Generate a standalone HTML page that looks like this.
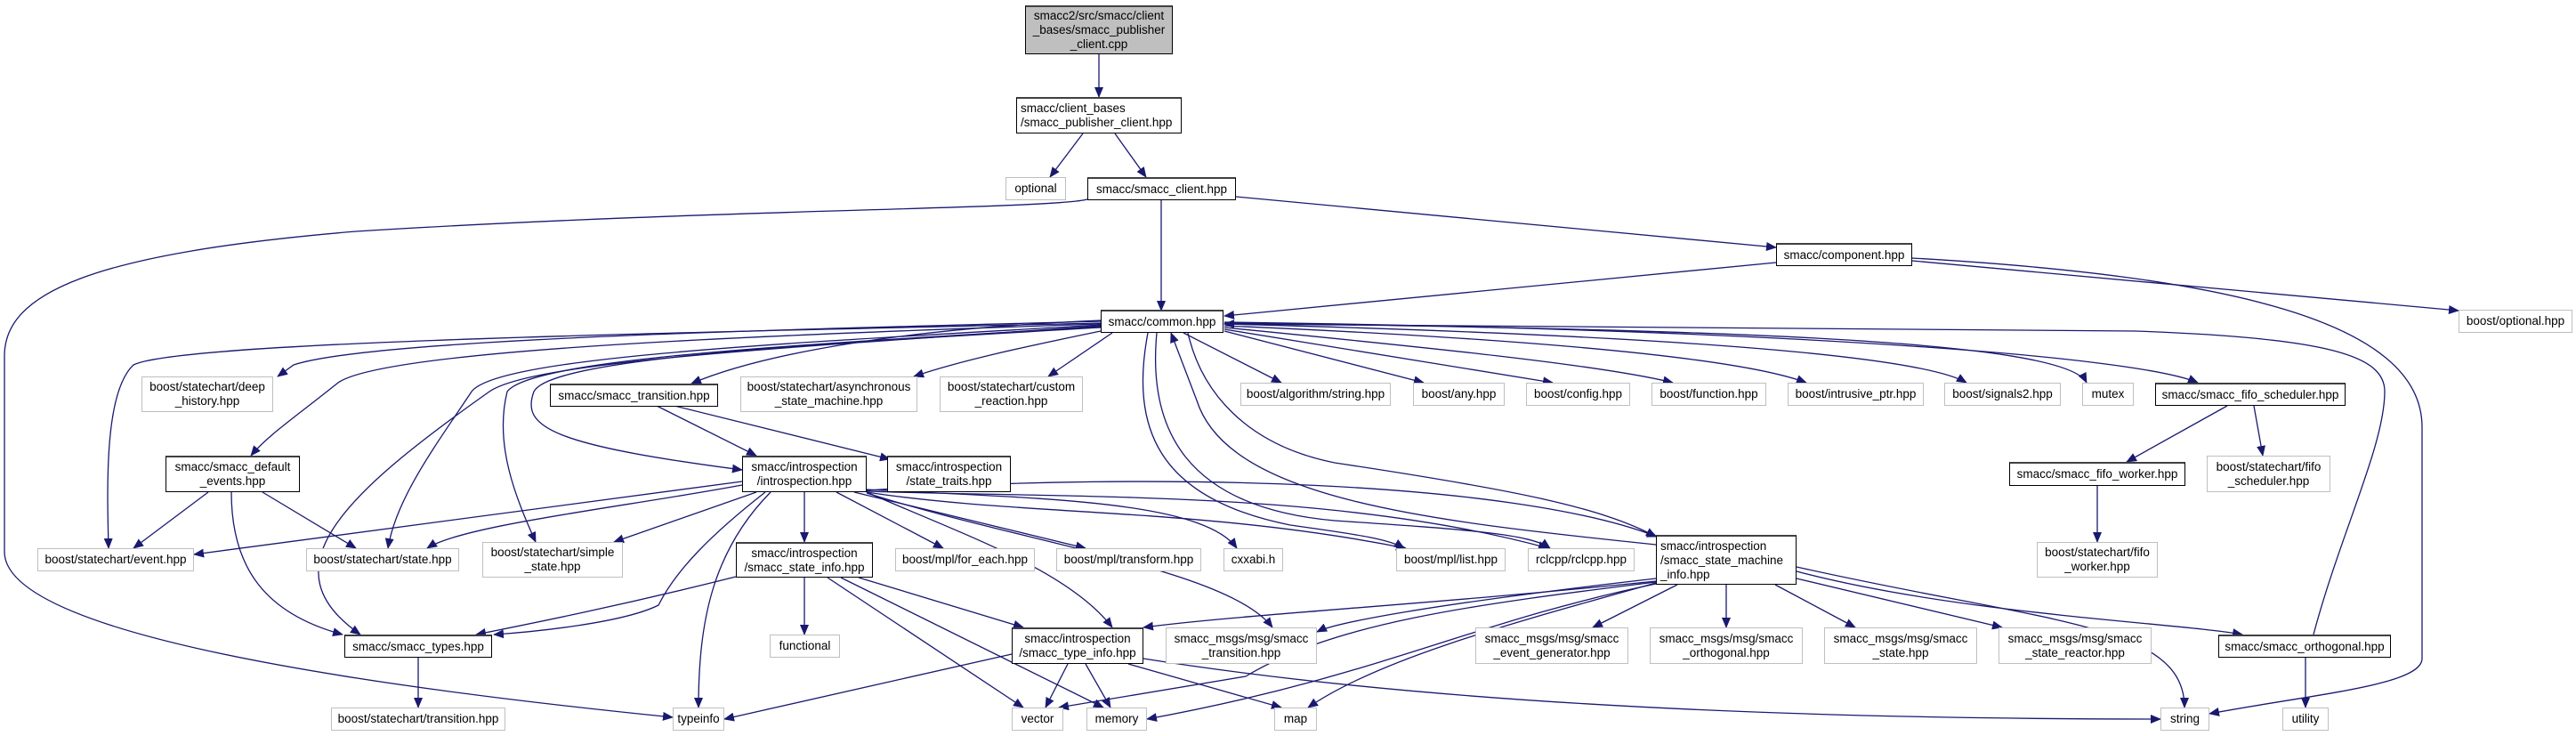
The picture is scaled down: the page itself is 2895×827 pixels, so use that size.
<!DOCTYPE html>
<html><head><meta charset="utf-8"><style>
body{margin:0;background:#fff;width:2895px;height:827px;overflow:hidden;position:relative;font-family:"Liberation Sans",sans-serif}
.n{position:absolute;box-sizing:border-box;border:1px solid #bfbfbf;background:#fff;font-size:13.5px;line-height:16px;color:#000;display:flex;align-items:center;justify-content:center;text-align:center;white-space:pre}
.d{border:1.5px solid #000;border-top:2px solid #404040}
.l{text-align:left;justify-content:flex-start;padding-left:4px}
svg{position:absolute;left:0;top:0}
</style></head><body>
<svg width="2895" height="827">
<defs><marker id="a" markerWidth="12" markerHeight="10" refX="11" refY="5" orient="auto" markerUnits="userSpaceOnUse"><path d="M0,0 L12,5 L0,10 z" fill="#191970"/></marker></defs>
<g fill="none" stroke="#191970" stroke-width="1.3" marker-end="url(#a)">
<path d="M1235,61 L1235,109"/>
<path d="M1217,150 L1180,199"/>
<path d="M1253,150 L1288,199"/>
<path d="M1305,225 L1305,349"/>
<path d="M1389,221 L1996,278"/>
<path d="M1222,224 C1180,235 800,235 400,260 C100,285 5,330 5,400 L5,620 C5,700 300,760 756,806"/>
<path d="M1996,295 L1376,355"/>
<path d="M2149,293 L2763,349"/>
<path d="M2149,290 C2500,310 2722,360 2722,480 L2722,740 C2722,770 2600,780 2483,802"/>
<path d="M2600,713 C2630,600 2680,500 2680,440 C2680,400 2620,380 2400,372 L1376,364"/>
<path d="M1237,361 C900,370 420,380 330,410 L312,423"/>
<path d="M1237,363 C700,375 200,385 150,410 C118,440 120,540 122,616"/>
<path d="M1237,364 C800,378 430,395 380,430 C330,470 300,490 282,512"/>
<path d="M1237,365 C900,385 560,400 530,440 C490,500 445,560 436,616"/>
<path d="M1237,366 C900,390 600,405 550,440 C380,560 300,640 405,713"/>
<path d="M1237,367 C950,385 600,400 570,440 C555,500 580,560 602,609"/>
<path d="M1237,368 C950,385 620,400 600,440 C585,480 620,500 834,528"/>
<path d="M1237,360 C1000,370 850,400 777,431"/>
<path d="M1250,374 L1178,423"/>
<path d="M1237,372 C1150,390 1080,405 1027,423"/>
<path d="M1330,374 L1440,430"/>
<path d="M1290,374 C1270,480 1300,560 1450,590 C1520,600 1560,605 1578,616"/>
<path d="M1300,374 C1290,480 1330,570 1500,585 C1650,595 1720,600 1742,616"/>
<path d="M1335,374 C1350,440 1400,500 1500,520 C1700,550 1800,570 1861,603"/>
<path d="M1861,612 C1600,585 1380,560 1345,450 L1316,374"/>
<path d="M1376,372 L1600,430"/>
<path d="M1376,370 L1745,430"/>
<path d="M1376,368 C1600,390 1800,410 1880,430"/>
<path d="M1376,366 C1700,380 1950,400 2030,430"/>
<path d="M1376,364 C1800,375 2150,395 2210,430"/>
<path d="M1376,363 C1900,370 2320,380 2345,430"/>
<path d="M1376,362 C2000,370 2400,400 2470,430"/>
<path d="M738,456 L850,512"/>
<path d="M758,456 L1000,516"/>
<path d="M234,553 L150,616"/>
<path d="M295,553 L400,616"/>
<path d="M260,553 C260,640 300,690 385,713"/>
<path d="M834,541 L218,623"/>
<path d="M834,545 C700,570 520,590 480,616"/>
<path d="M850,553 L690,609"/>
<path d="M904,553 L904,609"/>
<path d="M860,553 C800,600 760,640 740,680 C700,700 600,710 555,713"/>
<path d="M866,553 C800,620 785,700 785,795"/>
<path d="M940,553 L1060,616"/>
<path d="M960,553 L1220,616"/>
<path d="M974,550 C1150,560 1350,560 1390,616"/>
<path d="M974,553 C1150,580 1350,570 1580,616"/>
<path d="M974,552 C1200,560 1500,550 1740,616"/>
<path d="M974,551 C1300,530 1700,540 1862,603"/>
<path d="M974,553 C1080,600 1200,640 1250,705"/>
<path d="M974,554 C1150,610 1380,640 1430,705"/>
<path d="M827,648 C700,680 600,700 535,713"/>
<path d="M904,649 L904,713"/>
<path d="M930,649 L1150,795"/>
<path d="M945,649 L1240,795"/>
<path d="M965,649 L1150,705"/>
<path d="M470,739 L470,795"/>
<path d="M1137,735 L814,808"/>
<path d="M1200,746 L1175,795"/>
<path d="M1220,746 L1248,795"/>
<path d="M1268,746 L1440,795"/>
<path d="M1285,740 C1600,790 2000,808 2428,808"/>
<path d="M1861,650 C1600,680 1500,700 1480,710"/>
<path d="M1885,657 L1790,705"/>
<path d="M1940,657 L1940,705"/>
<path d="M1995,657 L2085,705"/>
<path d="M2019,650 L2250,705"/>
<path d="M2019,642 C2200,690 2450,700 2520,713"/>
<path d="M2019,637 C2300,700 2455,700 2455,795"/>
<path d="M1861,655 C1700,700 1550,740 1470,795"/>
<path d="M1861,654 C1650,680 1500,700 1400,760 L1190,795"/>
<path d="M1861,656 C1650,700 1550,760 1289,808"/>
<path d="M1861,653 C1600,680 1400,690 1285,705"/>
<path d="M2503,456 L2390,519"/>
<path d="M2533,456 L2543,512"/>
<path d="M2357,546 L2357,609"/>
<path d="M2591,739 L2591,795"/>
</g>
</svg>
<div class="n" style="left:1152px;top:6px;width:166px;height:55px;background:#bfbfbf;border:1.5px solid #000;border-top:2px solid #404040">smacc2/src/smacc/client
_bases/smacc_publisher
_client.cpp</div>
<div class="n d l" style="left:1142px;top:109px;width:186px;height:41px">smacc/client_bases
/smacc_publisher_client.hpp</div>
<div class="n" style="left:1130px;top:199px;width:68px;height:26px">optional</div>
<div class="n d" style="left:1222px;top:199px;width:167px;height:26px">smacc/smacc_client.hpp</div>
<div class="n d" style="left:1237px;top:348px;width:138px;height:26px">smacc/common.hpp</div>
<div class="n d" style="left:1996px;top:273px;width:153px;height:26px">smacc/component.hpp</div>
<div class="n" style="left:2763px;top:348px;width:128px;height:26px">boost/optional.hpp</div>
<div class="n" style="left:159px;top:423px;width:148px;height:40px">boost/statechart/deep
_history.hpp</div>
<div class="n d" style="left:618px;top:431px;width:189px;height:26px">smacc/smacc_transition.hpp</div>
<div class="n" style="left:832px;top:423px;width:199px;height:40px">boost/statechart/asynchronous
_state_machine.hpp</div>
<div class="n" style="left:1056px;top:423px;width:161px;height:40px">boost/statechart/custom
_reaction.hpp</div>
<div class="n" style="left:1394px;top:430px;width:169px;height:26px">boost/algorithm/string.hpp</div>
<div class="n" style="left:1588px;top:430px;width:103px;height:26px">boost/any.hpp</div>
<div class="n" style="left:1715px;top:430px;width:117px;height:26px">boost/config.hpp</div>
<div class="n" style="left:1856px;top:430px;width:129px;height:26px">boost/function.hpp</div>
<div class="n" style="left:2009px;top:430px;width:153px;height:26px">boost/intrusive_ptr.hpp</div>
<div class="n" style="left:2185px;top:430px;width:131px;height:26px">boost/signals2.hpp</div>
<div class="n" style="left:2340px;top:430px;width:58px;height:26px">mutex</div>
<div class="n d" style="left:2422px;top:430px;width:214px;height:26px">smacc/smacc_fifo_scheduler.hpp</div>
<div class="n d" style="left:186px;top:512px;width:151px;height:41px">smacc/smacc_default
_events.hpp</div>
<div class="n d" style="left:834px;top:512px;width:140px;height:41px">smacc/introspection
/introspection.hpp</div>
<div class="n d" style="left:997px;top:512px;width:139px;height:41px">smacc/introspection
/state_traits.hpp</div>
<div class="n d" style="left:2258px;top:519px;width:198px;height:27px">smacc/smacc_fifo_worker.hpp</div>
<div class="n" style="left:2480px;top:512px;width:139px;height:41px">boost/statechart/fifo
_scheduler.hpp</div>
<div class="n" style="left:42px;top:616px;width:176px;height:26px">boost/statechart/event.hpp</div>
<div class="n" style="left:344px;top:616px;width:172px;height:26px">boost/statechart/state.hpp</div>
<div class="n" style="left:542px;top:609px;width:158px;height:40px">boost/statechart/simple
_state.hpp</div>
<div class="n d" style="left:827px;top:609px;width:154px;height:40px">smacc/introspection
/smacc_state_info.hpp</div>
<div class="n" style="left:1006px;top:616px;width:157px;height:26px">boost/mpl/for_each.hpp</div>
<div class="n" style="left:1187px;top:616px;width:163px;height:26px">boost/mpl/transform.hpp</div>
<div class="n" style="left:1375px;top:616px;width:67px;height:26px">cxxabi.h</div>
<div class="n" style="left:1569px;top:616px;width:123px;height:26px">boost/mpl/list.hpp</div>
<div class="n" style="left:1717px;top:616px;width:120px;height:26px">rclcpp/rclcpp.hpp</div>
<div class="n d l" style="left:1861px;top:601px;width:158px;height:56px">smacc/introspection
/smacc_state_machine
_info.hpp</div>
<div class="n" style="left:2289px;top:609px;width:136px;height:40px">boost/statechart/fifo
_worker.hpp</div>
<div class="n d" style="left:387px;top:713px;width:166px;height:26px">smacc/smacc_types.hpp</div>
<div class="n" style="left:865px;top:713px;width:79px;height:26px">functional</div>
<div class="n d" style="left:1137px;top:705px;width:148px;height:41px">smacc/introspection
/smacc_type_info.hpp</div>
<div class="n" style="left:1310px;top:705px;width:170px;height:41px">smacc_msgs/msg/smacc
_transition.hpp</div>
<div class="n" style="left:1658px;top:705px;width:172px;height:41px">smacc_msgs/msg/smacc
_event_generator.hpp</div>
<div class="n" style="left:1854px;top:705px;width:172px;height:41px">smacc_msgs/msg/smacc
_orthogonal.hpp</div>
<div class="n" style="left:2050px;top:705px;width:172px;height:41px">smacc_msgs/msg/smacc
_state.hpp</div>
<div class="n" style="left:2246px;top:705px;width:172px;height:41px">smacc_msgs/msg/smacc
_state_reactor.hpp</div>
<div class="n d" style="left:2493px;top:713px;width:194px;height:26px">smacc/smacc_orthogonal.hpp</div>
<div class="n" style="left:372px;top:795px;width:196px;height:26px">boost/statechart/transition.hpp</div>
<div class="n" style="left:756px;top:795px;width:58px;height:26px">typeinfo</div>
<div class="n" style="left:1137px;top:795px;width:58px;height:26px">vector</div>
<div class="n" style="left:1221px;top:795px;width:68px;height:26px">memory</div>
<div class="n" style="left:1432px;top:795px;width:48px;height:26px">map</div>
<div class="n" style="left:2428px;top:795px;width:55px;height:26px">string</div>
<div class="n" style="left:2565px;top:795px;width:52px;height:26px">utility</div>
</body></html>
